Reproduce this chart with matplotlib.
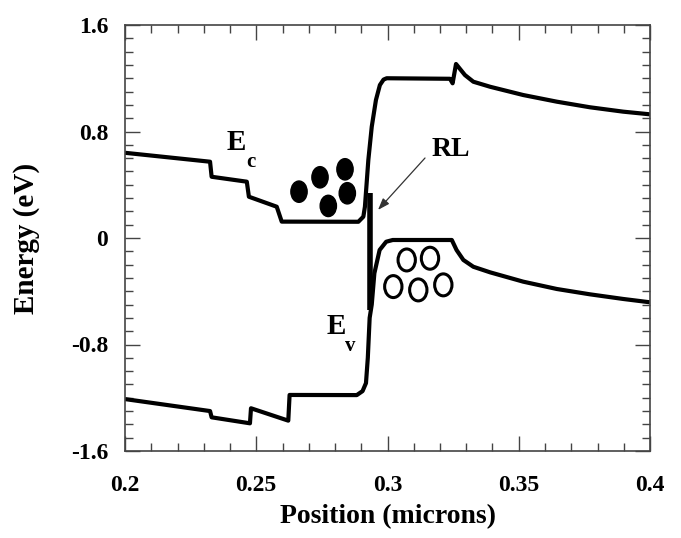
import matplotlib
matplotlib.use("Agg")
import matplotlib.pyplot as plt
from matplotlib.patches import Ellipse
from matplotlib.ticker import MultipleLocator

# Conduction band edge
ec_x = [0.2, 0.2324, 0.2330, 0.2464, 0.2472, 0.2578, 0.2597, 0.2889, 0.2908, 0.2914,
        0.2927, 0.2940, 0.2956, 0.2971, 0.2985, 0.2997, 0.3238, 0.3248, 0.3261,
        0.3295, 0.3327, 0.3391, 0.3517, 0.3645, 0.3771, 0.3898, 0.4]
ec_y = [0.64, 0.573, 0.46, 0.423, 0.31, 0.235, 0.123, 0.122, 0.16, 0.235,
        0.586, 0.836, 1.037, 1.149, 1.19, 1.20, 1.196, 1.162, 1.307,
        1.224, 1.174, 1.136, 1.074, 1.024, 0.982, 0.949, 0.929]
# Valence band edge
ev_x = [0.2, 0.2324, 0.2330, 0.2476, 0.2480, 0.2622, 0.2627, 0.2883, 0.2905, 0.2918,
        0.2925, 0.2932, 0.2940, 0.2950, 0.2970, 0.2995, 0.3020, 0.3245, 0.3263, 0.3289,
        0.3327, 0.3391, 0.3517, 0.3645, 0.3771, 0.3898, 0.4]
ev_y = [-1.21, -1.30, -1.347, -1.392, -1.279, -1.372, -1.179, -1.18, -1.15, -1.09,
        -0.90, -0.60, -0.50, -0.265, -0.09, -0.028, -0.015, -0.015, -0.09, -0.165,
        -0.216, -0.258, -0.328, -0.383, -0.423, -0.458, -0.483]
# Recombination layer spike
rl_x = [0.2935, 0.2935]
rl_y = [-0.54, 0.34]
# Electrons (filled) and holes (open)
el_x = [0.26629, 0.27429, 0.28381, 0.27745, 0.28469]
el_y = [0.348, 0.456, 0.516, 0.241, 0.336]
ho_x = [0.30732, 0.31619, 0.30221, 0.31173, 0.32126]
ho_y = [-0.165, -0.152, -0.365, -0.390, -0.352]

xticks = [0.2, 0.25, 0.3, 0.35, 0.4]
xtick_labels = ["0.2", "0.25", "0.3", "0.35", "0.4"]
yticks = [-1.6, -0.8, 0, 0.8, 1.6]
ytick_labels = ["-1.6", "-0.8", "0", "0.8", "1.6"]

plt.rcParams['font.family'] = ['Liberation Serif', 'DejaVu Serif']
plt.rcParams['font.weight'] = 'bold'

fig = plt.figure(figsize=(6.81, 5.38), dpi=100)
ax = fig.add_axes([125/681, 1-451/538, 525/681, 426/538])

ax.plot(ec_x, ec_y, color='black', lw=3.0, solid_joinstyle='round', solid_capstyle='butt')
ax.plot(ev_x, ev_y, color='black', lw=3.0, solid_joinstyle='round', solid_capstyle='butt')
ax.plot(rl_x, rl_y, color='black', lw=4.0, solid_capstyle='butt')

w, h = 0.0062, 0.16
for x, y in zip(el_x, el_y):
    ax.add_patch(Ellipse((x, y), w, h, facecolor='black', edgecolor='black', lw=1))
for x, y in zip(ho_x, ho_y):
    ax.add_patch(Ellipse((x, y), 0.0066, 0.165, facecolor='none', edgecolor='black', lw=2.2))

ax.text(0.2423, 0.715, "E", fontsize=21, ha='center', va='center', fontweight='bold')
ax.text(0.2478, 0.571, "c", fontsize=15, ha='center', va='center', fontweight='bold')
ax.text(0.2806, -0.664, "E", fontsize=21, ha='center', va='center', fontweight='bold')
ax.text(0.2857, -0.811, "v", fontsize=15, ha='center', va='center', fontweight='bold')
ax.text(0.3240, 0.665, "RL", fontsize=20, ha='center', va='center', fontweight='bold')
ax.annotate("", xy=(0.29638, 0.211), xytext=(0.31429, 0.601),
            arrowprops=dict(arrowstyle='-|>,head_length=0.7,head_width=0.25',
                            color='#333333', lw=0.9, shrinkA=0, shrinkB=0))

ax.set_xlim(0.2, 0.4)
ax.set_ylim(-1.6, 1.6)
ax.set_xticks(xticks)
ax.set_xticklabels(xtick_labels)
ax.set_yticks(yticks)
ax.set_yticklabels(ytick_labels)
ax.xaxis.set_minor_locator(MultipleLocator(0.01))
ax.yaxis.set_minor_locator(MultipleLocator(0.1))
ax.tick_params(which='both', direction='in', top=True, right=True, color='#444444', width=1.0)
ax.tick_params(which='major', length=11)
ax.tick_params(which='minor', length=6)
ax.tick_params(axis='x', which='major', pad=17, labelsize=17)
ax.tick_params(axis='y', which='major', pad=12, labelsize=17)
for lab in ax.get_xticklabels() + ax.get_yticklabels():
    lab.set_fontweight('bold')
for s in ax.spines.values():
    s.set_color('#444444')
    s.set_linewidth(1.2)

ax.set_xlabel("Position (microns)", fontsize=20, fontweight='bold', labelpad=6)
ax.set_ylabel("Energy (eV)", fontsize=21, fontweight='bold', labelpad=22)

fig.savefig("out.png", dpi=100)
